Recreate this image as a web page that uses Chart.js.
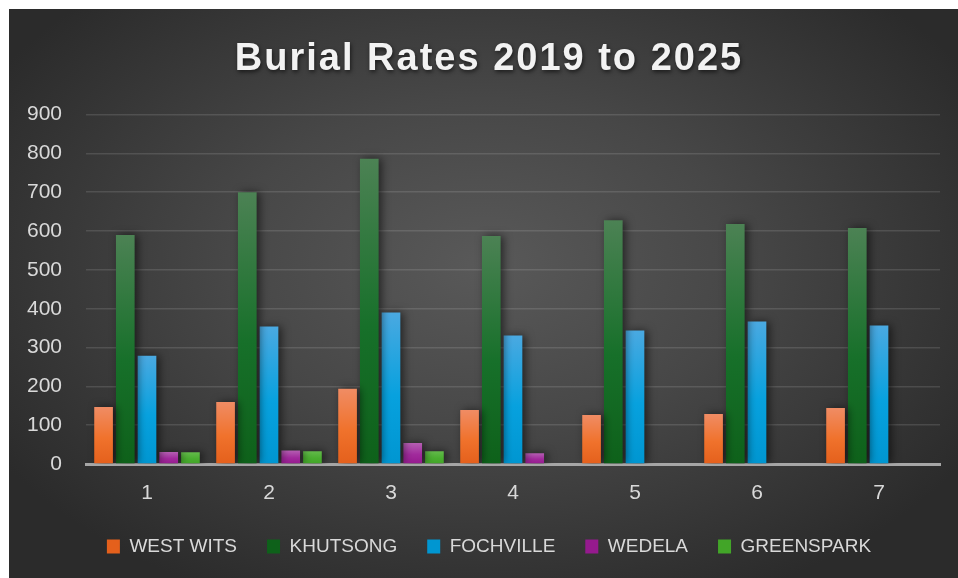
<!DOCTYPE html>
<html>
<head>
<meta charset="utf-8">
<script src="https://cdn.jsdelivr.net/npm/chart.js@4"></script>
<style>
    body { margin: 0; background: #fff; }
    #wrap {
        position: absolute; left: 9px; top: 9px; width: 949px; height: 569px;
        background: radial-gradient(ellipse 60% 65% at 50% 45%, #595959 0%, #474747 45%, #2b2b2b 100%);
    }
</style>
</head>
<body>
<div id="wrap"><canvas id="chart"></canvas></div>
<script>
// Data
const years = ['1', '2', '3', '4', '5', '6', '7'];
const westWits = [147, 160, 194, 139, 126, 129, 144];
const khutsong = [590, 700, 786, 587, 628, 618, 608];
const fochville = [279, 354, 390, 331, 344, 367, 357];
const wedela = [31, 35, 54, 28, 0, 2, 0];
const greenspark = [30, 33, 33, 2, 0, 0, 0];

// vertical gradient per bar (top, middle, bottom)
function barFill(top, mid, bottom) {
    return (ctx) => {
        const chart = ctx.chart;
        if (ctx.type !== 'data' || !chart.chartArea) return mid;
        const y = chart.scales.y;
        const yTop = y.getPixelForValue(ctx.raw);
        const yBot = y.getPixelForValue(0);
        if (yBot - yTop < 2) return mid;
        const g = chart.ctx.createLinearGradient(0, yTop, 0, yBot);
        g.addColorStop(0, top);
        g.addColorStop(0.55, mid);
        g.addColorStop(1, bottom);
        return g;
    };
}

// soft shadow behind the bars
const barShadow = {
    id: 'barShadow',
    beforeDatasetsDraw(chart) {
        const c = chart.ctx;
        c.save();
        c.shadowColor = 'rgba(0,0,0,0.55)';
        c.shadowBlur = 9;
        c.shadowOffsetX = 3;
        c.shadowOffsetY = 0;
    },
    afterDatasetsDraw(chart) {
        chart.ctx.restore();
    }
};

// title: letter spacing + shadow; title and legend centred a bit right, like the original
const titleStyle = {
    id: 'titleStyle',
    afterLayout(chart) {
        if (chart.legend) chart.legend.left += 29;
        const block = chart.titleBlock;
        if (!block) return;
        block.left += 29;
        if (block._styled) return;
        const orig = block.draw;
        block.draw = function () {
            const c = chart.ctx;
            c.save();
            c.letterSpacing = '2px';
            c.shadowColor = 'rgba(0,0,0,0.6)';
            c.shadowBlur = 4;
            c.shadowOffsetX = 1;
            c.shadowOffsetY = 2;
            orig.apply(this, arguments);
            c.restore();
        };
        block._styled = true;
    }
};

const tickColor = '#d9d9d9';
const baseFont = "'Liberation Sans', Arial, sans-serif";

new Chart(document.getElementById('chart'), {
    type: 'bar',
    data: {
        labels: years,
        datasets: [
            { label: 'WEST WITS', data: westWits, backgroundColor: barFill('#f08c64', '#f0722c', '#e4601c') },
            { label: 'KHUTSONG', data: khutsong, backgroundColor: barFill('#4c8254', '#17702a', '#0e611a') },
            { label: 'FOCHVILLE', data: fochville, backgroundColor: barFill('#4aa9e1', '#07a1de', '#0096d1') },
            { label: 'WEDELA', data: wedela, backgroundColor: barFill('#b45fb2', '#a12a9c', '#951a8e') },
            { label: 'GREENSPARK', data: greenspark, backgroundColor: barFill('#63ba4b', '#4aae30', '#42a528') }
        ]
    },
    options: {
        responsive: true,
        maintainAspectRatio: false,
        animation: false,
        datasets: {
            bar: { categoryPercentage: 0.89, barPercentage: 0.86 }
        },
        layout: { padding: { top: 13, right: 18, bottom: 12, left: 0 } },
        plugins: {
            title: {
                display: true,
                text: 'Burial Rates 2019 to 2025',
                color: '#f2f2f2',
                font: { family: baseFont, size: 38, weight: 'bold' },
                padding: { top: 15, bottom: 32 }
            },
            legend: {
                position: 'bottom',
                labels: {
                    color: tickColor,
                    font: { family: baseFont, size: 19 },
                    boxWidth: 13,
                    boxHeight: 14,
                    padding: 30
                }
            },
            tooltip: { enabled: false }
        },
        scales: {
            x: {
                grid: { display: false, drawTicks: false },
                border: { display: true, color: '#a6a6a6', width: 3 },
                ticks: { color: tickColor, font: { family: baseFont, size: 21 }, padding: 17 },
                afterFit(scale) { scale.height = 43; }
            },
            y: {
                min: 0,
                max: 900,
                ticks: { stepSize: 100, color: tickColor, font: { family: baseFont, size: 21 }, padding: 24 },
                grid: { color: 'rgba(255,255,255,0.12)', lineWidth: 1.5, drawTicks: false },
                border: { display: false },
                afterFit(scale) { scale.width = 77; }
            }
        }
    },
    plugins: [barShadow, titleStyle]
});
</script>
</body>
</html>
